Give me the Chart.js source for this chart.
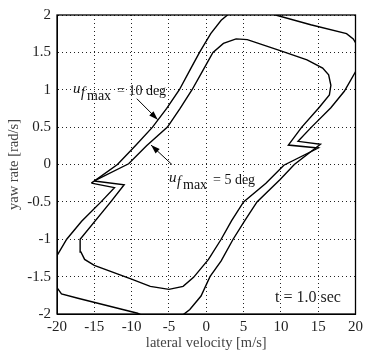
<!DOCTYPE html>
<html>
<head>
<meta charset="utf-8">
<script src="https://cdn.jsdelivr.net/npm/chart.js@4"></script>
<style>
    html, body { margin: 0; padding: 0; background: #fff; }
    #wrap { width: 367px; height: 356px; }
</style>
</head>
<body>
<div id="wrap"><canvas id="yaw-chart"></canvas></div>
<script>
// u_f max = 10 deg (outer loop)
const uf10Vel = [-15.4, -11.9, -9.5, -7.2, -5.3, -3.6, -2.1, -0.9, 0.6, 2.0, 3.2, 5.0, 7.0, 9.3, 14.0, 18.8, 19.7, 20.3, 20.5, 20.0, 18.5, 16.7, 14.1, 12.3, 15.3, 11.8, 9.9, 6.8, 5.1, 3.6, 2.0, 0.5, -0.7, -2.2, -3.1, -5.0, -7.0, -9.2, -13.6, -17.2, -19.4, -20.2, -20.5, -20.0, -18.7, -16.7, -14.1, -12.3, -15.4];
const uf10Yaw = [-0.25, 0.0, 0.25, 0.5, 0.75, 1.0, 1.28, 1.5, 1.75, 1.93, 2.03, 2.12, 2.09, 2.0, 1.87, 1.75, 1.68, 1.58, 1.42, 1.24, 0.98, 0.76, 0.5, 0.31, 0.27, 0.0, -0.2, -0.5, -0.76, -1.0, -1.29, -1.5, -1.76, -1.94, -2.01, -2.12, -2.09, -1.99, -1.88, -1.79, -1.73, -1.62, -1.45, -1.22, -1.0, -0.76, -0.5, -0.31, -0.25];

// u_f max = 5 deg (inner loop)
const uf5Vel = [-15.0, -10.4, -8.0, -5.2, -3.5, -1.9, -0.5, 0.9, 2.3, 4.0, 5.5, 10.0, 13.5, 15.6, 16.4, 16.7, 16.5, 15.1, 12.8, 11.0, 15.0, 10.4, 8.0, 5.0, 3.4, 2.0, 0.3, -1.7, -3.1, -5.0, -7.5, -10.1, -15.0, -16.3, -16.8, -16.9, -12.8, -11.0, -15.0];
const uf5Yaw = [-0.22, 0.01, 0.25, 0.5, 0.75, 1.0, 1.25, 1.5, 1.62, 1.68, 1.67, 1.52, 1.4, 1.29, 1.2, 1.06, 0.93, 0.76, 0.5, 0.26, 0.22, -0.01, -0.25, -0.5, -0.75, -1.0, -1.27, -1.51, -1.63, -1.67, -1.63, -1.53, -1.35, -1.27, -1.17, -1.0, -0.5, -0.27, -0.22];

const xTicks = [-20, -15, -10, -5, 0, 5, 10, 15, 20];
const yTicks = ["-2", "-1.5", "-1", "-0.5", "0", "0.5", "1", "1.5", "2"];

const serif = "'Liberation Serif', 'Times New Roman', serif";

function toPoints(xs, ys) {
    return xs.map((x, i) => ({ x: x, y: ys[i] }));
}

// frame, arrows, labels
const decorPlugin = {
    id: "decor",
    afterDraw(chart) {
        const { ctx, chartArea, scales } = chart;
        const sx = (v) => scales.x.getPixelForValue(v);
        const sy = (v) => scales.y.getPixelForValue(v);
        ctx.save();

        // box round the plot
        ctx.strokeStyle = "#000";
        ctx.lineWidth = 1.3;
        ctx.strokeRect(chartArea.left, chartArea.top, chartArea.right - chartArea.left, chartArea.bottom - chartArea.top);

        // arrows
        function arrow(x0, y0, x1, y1) {
            const ax = sx(x0), ay = sy(y0), bx = sx(x1), by = sy(y1);
            const ang = Math.atan2(by - ay, bx - ax);
            ctx.lineWidth = 1;
            ctx.beginPath();
            ctx.moveTo(ax, ay);
            ctx.lineTo(bx, by);
            ctx.stroke();
            ctx.beginPath();
            ctx.moveTo(bx, by);
            ctx.lineTo(bx - 9 * Math.cos(ang) + 3 * Math.sin(ang), by - 9 * Math.sin(ang) - 3 * Math.cos(ang));
            ctx.lineTo(bx - 9 * Math.cos(ang) - 3 * Math.sin(ang), by - 9 * Math.sin(ang) + 3 * Math.cos(ang));
            ctx.closePath();
            ctx.fillStyle = "#000";
            ctx.fill();
        }
        arrow(-9.3, 0.88, -6.5, 0.6);
        arrow(-4.6, 0.0, -7.4, 0.26);

        // annotation texts
        ctx.fillStyle = "#111";
        ctx.textAlign = "left";
        ctx.textBaseline = "alphabetic";
        function label(x, y, deg) {
            ctx.font = "italic 15px " + serif;
            ctx.fillText("u", x, y);
            ctx.font = "italic 14px " + serif;
            ctx.fillText("f", x + 8, y + 4);
            ctx.font = "14px " + serif;
            ctx.fillText("max", x + 14, y + 7);
            ctx.fillText("= " + deg + " deg", x + 44, y + 2);
        }
        label(73, 93, 10);
        label(169, 182, 5);

        ctx.font = "16px " + serif;
        ctx.fillStyle = "#222";
        ctx.fillText("t = 1.0 sec", 275, 302);

        // axis titles
        ctx.fillStyle = "#444";
        ctx.font = "14.5px " + serif;
        ctx.textAlign = "center";
        ctx.fillText("lateral velocity [m/s]", (chartArea.left + chartArea.right) / 2, 347);
        ctx.translate(18, (chartArea.top + chartArea.bottom) / 2);
        ctx.rotate(-Math.PI / 2);
        ctx.fillText("yaw rate [rad/s]", 0, 0);
        ctx.restore();
    },
};

const chart = new Chart(document.getElementById("yaw-chart"), {
    type: "scatter",
    data: {
        datasets: [
            {
                label: "u_f max = 10 deg",
                data: toPoints(uf10Vel, uf10Yaw),
                showLine: true,
                borderColor: "#000",
                borderWidth: 1.4,
                pointRadius: 0,
                tension: 0,
            },
            {
                label: "u_f max = 5 deg",
                data: toPoints(uf5Vel, uf5Yaw),
                showLine: true,
                borderColor: "#000",
                borderWidth: 1.4,
                pointRadius: 0,
                tension: 0,
            },
        ],
    },
    options: {
        responsive: true,
        maintainAspectRatio: false,
        animation: false,
        layout: {
            padding: { left: 0, right: 8, top: 11, bottom: 0 },
        },
        plugins: {
            legend: { display: false },
            tooltip: { enabled: false },
        },
        scales: {
            x: {
                type: "linear",
                min: -20,
                max: 20,
                afterBuildTicks: (scale) => {
                    scale.ticks = xTicks.map((v) => ({ value: v }));
                },
                afterFit: (scale) => {
                    scale.height = 42;
                },
                ticks: {
                    color: "#222",
                    padding: 4,
                    font: { family: serif, size: 15 },
                    maxRotation: 0,
                    callback: (v) => String(v),
                },
                grid: {
                    color: "#222",
                    lineWidth: 1,
                    drawTicks: false,
                },
                border: { display: true, color: "#000", dash: [1, 3] },
            },
            y: {
                type: "linear",
                min: -2,
                max: 2,
                afterBuildTicks: (scale) => {
                    scale.ticks = yTicks.map((t) => ({ value: Number(t) }));
                },
                afterFit: (scale) => {
                    scale.width = 57;
                },
                ticks: {
                    color: "#222",
                    padding: 6,
                    font: { family: serif, size: 15 },
                    callback: (v) => yTicks.find((t) => Number(t) === v) || String(v),
                },
                grid: {
                    color: "#222",
                    lineWidth: 1,
                    drawTicks: false,
                },
                border: { display: true, color: "#000", dash: [1, 3] },
            },
        },
    },
    plugins: [decorPlugin],
});
</script>
</body>
</html>
